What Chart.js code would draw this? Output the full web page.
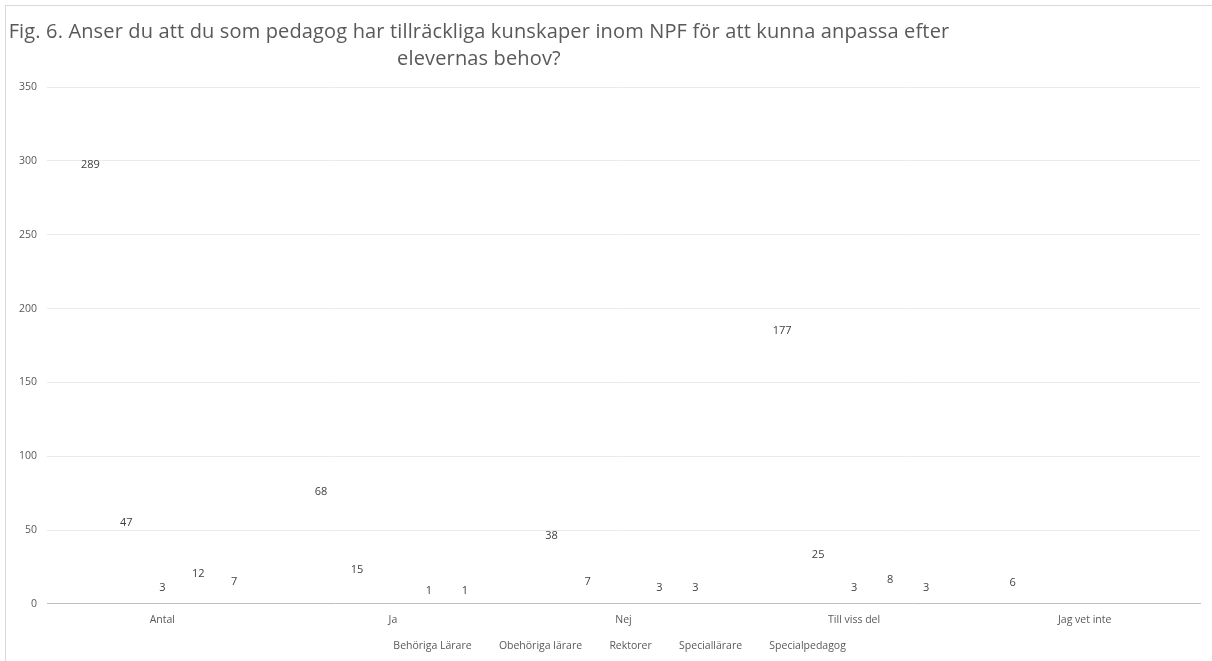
<!DOCTYPE html>
<html>
<head>
<meta charset="utf-8">
<script src="https://cdn.jsdelivr.net/npm/chart.js@4"></script>
<style>
  html, body { margin: 0; padding: 0; background: #fff; overflow: hidden; }
  #frame { position: absolute; left: 5px; top: 5px; width: 1230px; height: 680px; border: 1px solid #d9d9d9; box-sizing: border-box; }
  #title { position: absolute; left: 0; top: 17px; width: 958px; text-align: center; letter-spacing: 0.15px;
           font-family: "Open Sans", sans-serif; font-size: 20px; line-height: 27px; color: #595959; }
  #wrap { position: absolute; left: 0; top: 0; width: 1212px; height: 661px; }
</style>
</head>
<body>
<div id="frame"></div>
<div id="wrap"><canvas id="chart"></canvas></div>
<div id="title">Fig. 6. Anser du att du som pedagog har tillräckliga kunskaper inom NPF för att kunna anpassa efter<br>elevernas behov?</div>
<script>
const categories = ['Antal', 'Ja', 'Nej', 'Till viss del', 'Jag vet inte'];
const seriesNames = ['Behöriga Lärare', 'Obehöriga lärare', 'Rektorer', 'Speciallärare', 'Specialpedagog'];
const behorigaLarare = [289, 68, 38, 177, 6];
const obehorigaLarare = [47, 15, 7, 25, null];
const rektorer = [3, null, null, 3, null];
const speciallarare = [12, 1, 3, 8, null];
const specialpedagog = [7, 1, 3, 3, null];
const yTicks = [0, 50, 100, 150, 200, 250, 300, 350];

const seriesValues = [behorigaLarare, obehorigaLarare, rektorer, speciallarare, specialpedagog];

// draws the value above each (invisible) bar
const valueLabels = {
  id: 'valueLabels',
  afterDatasetsDraw(chart) {
    const ctx = chart.ctx;
    ctx.save();
    ctx.font = '11px "Open Sans", sans-serif';
    ctx.fillStyle = '#404040';
    ctx.textAlign = 'center';
    ctx.textBaseline = 'middle';
    chart.data.datasets.forEach((ds, i) => {
      const meta = chart.getDatasetMeta(i);
      meta.data.forEach((bar, j) => {
        const v = ds.data[j];
        if (v === null || v === undefined) return;
        ctx.fillText(String(v), bar.x, bar.y - 12);
      });
    });
    ctx.restore();
  }
};

new Chart(document.getElementById('chart'), {
  type: 'bar',
  data: {
    labels: categories,
    datasets: seriesNames.map((name, i) => ({
      label: name,
      data: seriesValues[i],
      backgroundColor: 'rgba(255,255,255,0)',
      borderColor: 'rgba(255,255,255,0)',
      borderWidth: 0,
      categoryPercentage: 0.78,
      barPercentage: 1
    }))
  },
  options: {
    responsive: true,
    maintainAspectRatio: false,
    animation: false,
    layout: { padding: { top: 87, left: 16, right: 12, bottom: 0 } },
    plugins: {
      title: { display: false },
      tooltip: { enabled: false },
      legend: {
        position: 'bottom',
        labels: {
          boxWidth: 18,
          boxHeight: 0,
          padding: 4,
          color: '#595959',
          font: { family: '"Open Sans", sans-serif', size: 10.5 }
        }
      }
    },
    scales: {
      x: {
        grid: { display: false, drawTicks: false },
        border: { color: '#bfbfbf', width: 1 },
        ticks: { color: '#595959', padding: 10, font: { family: '"Open Sans", sans-serif', size: 10.5 } }
      },
      y: {
        min: 0,
        max: 350,
        afterBuildTicks(scale) { scale.ticks = yTicks.map(v => ({ value: v })); },
        afterFit(scale) { scale.width = 31; },
        grid: { color: '#ebebeb', drawTicks: false },
        border: { display: false },
        ticks: { color: '#595959', padding: 10, font: { family: '"Open Sans", sans-serif', size: 10.5 } }
      }
    }
  },
  plugins: [valueLabels]
});
</script>
</body>
</html>
